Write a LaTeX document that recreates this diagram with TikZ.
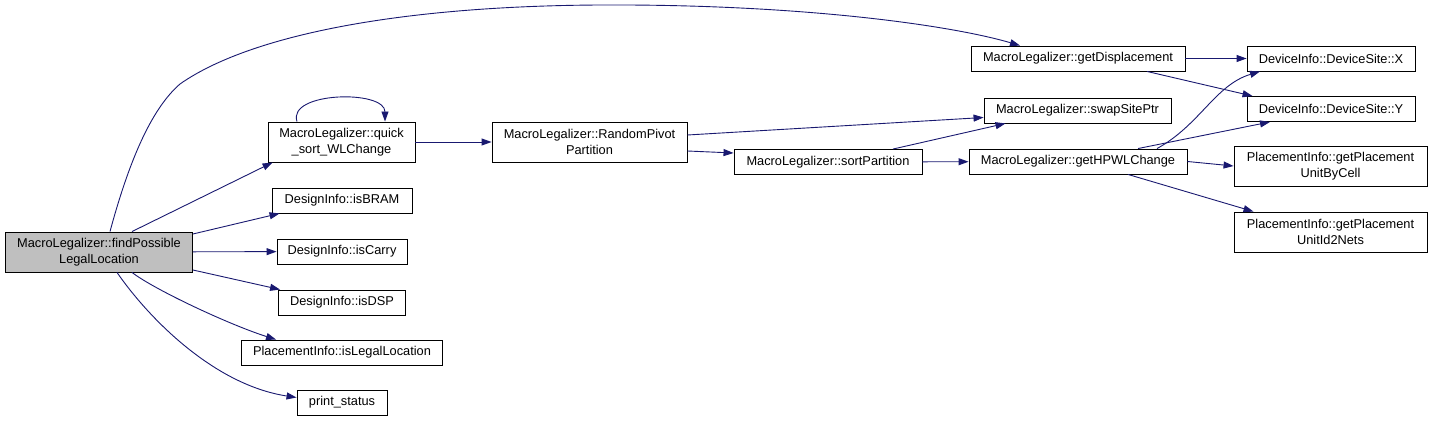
\documentclass[tikz,border=0pt]{standalone}
\usepackage{fontspec}
\setmainfont{Liberation Sans}
\usetikzlibrary{arrows.meta,calc}
\definecolor{edgeBlue}{RGB}{25,25,112}

\begin{document}
\begin{tikzpicture}[
    x=1pt, y=-1pt,
    font=\fontsize{12.8pt}{16pt}\selectfont,
    funcBox/.style={
        rectangle,
        draw=black,
        fill=white,
        line width=0.9pt,
        align=center,
        inner xsep=8pt,
        inner ysep=0pt,
        minimum height=25pt
    },
    funcBoxTwo/.style={
        funcBox,
        minimum height=40pt
    },
    rootBox/.style={
        funcBoxTwo,
        fill=black!25
    },
    callLine/.style={
        draw=edgeBlue,
        line width=0.9pt,
        -{Triangle[length=10pt,width=7pt,fill=edgeBlue]}
    }
]
\useasboundingbox (0,0) rectangle (1432,422);

% ==================== CALLER ====================
\node[rootBox, minimum width=187pt] (findPossible) at (99, 252) {MacroLegalizer::findPossible\\LegalLocation};

% ==================== FIRST LEVEL ====================
\node[funcBoxTwo, minimum width=147pt] (quickSort) at (341.5, 142) {MacroLegalizer::quick\\\_sort\_WLChange};
\node[funcBox, minimum width=140pt] (isBRAM) at (342, 200.5) {DesignInfo::isBRAM};
\node[funcBox, minimum width=130pt] (isCarry) at (342, 251.5) {DesignInfo::isCarry};
\node[funcBox, minimum width=127pt] (isDSP) at (342, 302.5) {DesignInfo::isDSP};
\node[funcBox, minimum width=201pt] (isLegal) at (342, 352.5) {PlacementInfo::isLegalLocation};
\node[funcBox, minimum width=90pt] (printStatus) at (342, 402.5) {print\_status};

% ==================== PARTITIONING ====================
\node[funcBoxTwo, minimum width=195pt] (randomPivot) at (589.5, 142) {MacroLegalizer::RandomPivot\\Partition};
\node[funcBox, minimum width=188pt] (sortPartition) at (828, 162) {MacroLegalizer::sortPartition};
\node[funcBox, minimum width=214pt] (getDisplacement) at (1078, 58.5) {MacroLegalizer::getDisplacement};
\node[funcBox, minimum width=187pt] (swapSitePtr) at (1077.5, 110.5) {MacroLegalizer::swapSitePtr};
\node[funcBox, minimum width=218pt] (getHPWLChange) at (1078, 161.5) {MacroLegalizer::getHPWLChange};

% ==================== LEAVES ====================
\node[funcBox, minimum width=168pt] (siteX) at (1331, 58.5) {DeviceInfo::DeviceSite::X};
\node[funcBox, minimum width=168pt] (siteY) at (1331, 109) {DeviceInfo::DeviceSite::Y};
\node[funcBoxTwo, minimum width=193pt] (unitByCell) at (1330.5, 166) {PlacementInfo::getPlacement\\UnitByCell};
\node[funcBoxTwo, minimum width=193pt] (unitId2Nets) at (1330.5, 232) {PlacementInfo::getPlacement\\UnitId2Nets};

% ==================== CALLS ====================
\draw[callLine] ([xshift=11pt]findPossible.north) .. controls (128,165) and (150,110) .. (180,84)
    .. controls (250,35) and (400,6) .. (600,5)
    .. controls (800,4) and (950,25) .. ([xshift=-58pt]getDisplacement.north);
\draw[callLine] ([xshift=33pt]findPossible.north) -- ([xshift=5pt]quickSort.south west);
\draw[callLine] ([xshift=-44.5pt]quickSort.north) .. controls +(-10,-30) and +(0,-32) .. ([xshift=43.5pt]quickSort.north);
\draw[callLine] ([yshift=18pt]findPossible.east) -- ([xshift=8pt]isBRAM.south west);
\draw[callLine] (findPossible) -- (isCarry);
\draw[callLine] ([yshift=-18pt]findPossible.east) -- ([xshift=2pt]isDSP.north west);
\draw[callLine] ([xshift=33pt]findPossible.south) .. controls (155,290) and (230,325) .. ([xshift=35pt]isLegal.north west);
\draw[callLine] ([xshift=18pt]findPossible.south) .. controls (150,320) and (215,385) .. ([yshift=5pt]printStatus.west);

\draw[callLine] (quickSort) -- (randomPivot);
\draw[callLine] ([yshift=7pt]randomPivot.east) -- ([yshift=-7pt]swapSitePtr.west);
\draw[callLine] ([yshift=-9pt]randomPivot.east) -- ([yshift=9pt]sortPartition.west);
\draw[callLine] ([xshift=65pt]sortPartition.north) -- ([xshift=-72pt]swapSitePtr.south);
\draw[callLine] (sortPartition) -- (getHPWLChange);

\draw[callLine] (getDisplacement) -- (siteX);
\draw[callLine] ([xshift=69pt]getDisplacement.south) -- ([xshift=6pt]siteY.north west);
\draw[callLine] ([xshift=79pt]getHPWLChange.north) .. controls (1200,125) and (1215,85) .. ([xshift=-71pt]siteX.south);
\draw[callLine] ([xshift=60pt]getHPWLChange.north) -- ([xshift=-61pt]siteY.south);
\draw[callLine] (getHPWLChange.east) -- (unitByCell.west);
\draw[callLine] ([xshift=50pt]getHPWLChange.south) -- ([xshift=-77pt]unitId2Nets.north);

\end{tikzpicture}
\end{document}
